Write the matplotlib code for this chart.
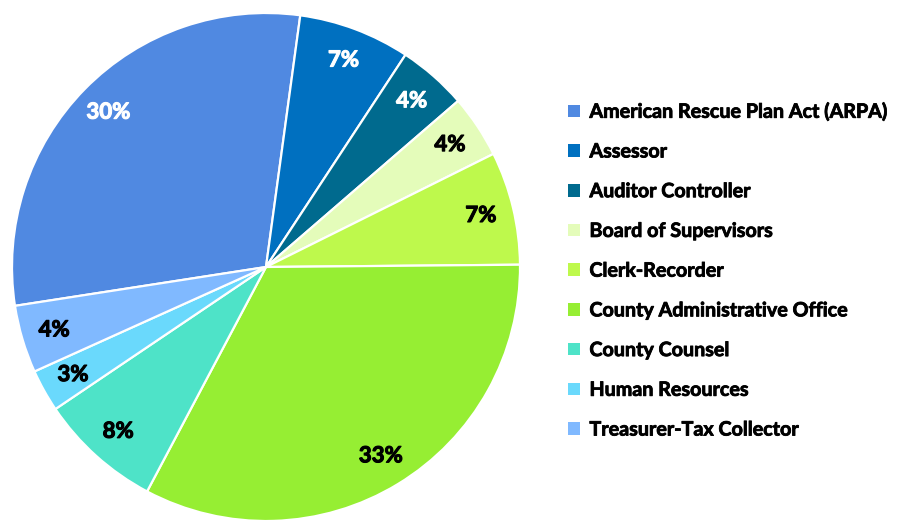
import matplotlib
matplotlib.use("Agg")
import matplotlib.pyplot as plt
from matplotlib.patches import Patch
import matplotlib.patheffects as pe

categories = ["American Rescue Plan Act (ARPA)", "Assessor", "Auditor Controller",
              "Board of Supervisors", "Clerk-Recorder", "County Administrative Office",
              "County Counsel", "Human Resources", "Treasurer-Tax Collector"]
values = [29.6, 7.1, 4.4, 4.0, 7.2, 32.9, 7.8, 2.7, 4.3]
labels_pct = ["30%", "7%", "4%", "4%", "7%", "33%", "8%", "3%", "4%"]
colors = ["#5089E1", "#0070C0", "#006A8E", "#E4FCBA", "#BEF94C", "#96EE33",
          "#4EE3C8", "#6AD9FC", "#80B9FF"]
label_colors = ["white", "white", "white", "black", "black", "black", "black", "black", "black"]

FONT = ['Lato', 'DejaVu Sans']
plt.rcParams['font.family'] = FONT

fig = plt.figure(figsize=(9.04, 5.23), dpi=100)
ax = fig.add_axes([12/904, 2/523, 508/904, 508/523])

wedges, texts, autotexts = ax.pie(
    values, colors=colors, startangle=188.8, counterclock=False, radius=1,
    autopct=lambda p: "", pctdistance=0.87,
    wedgeprops=dict(edgecolor="white", linewidth=1.6))
for at, lab, c in zip(autotexts, labels_pct, label_colors):
    at.set_text(lab)
    at.set_color(c)
    at.set_fontsize(16)
    at.set_fontweight("bold")
    at.set_path_effects([pe.withStroke(linewidth=0.8, foreground=c)])
ax.set_xlim(-1, 1)
ax.set_ylim(-1, 1)
ax.set_aspect("equal")
ax.axis("off")

handles = [Patch(facecolor=c, edgecolor="none") for c in colors]
leg = fig.legend(handles, categories, loc="upper left",
                 bbox_to_anchor=(550/904, 1 - 84/523), frameon=False,
                 handlelength=0.6, handleheight=0.6, handletextpad=0.5,
                 labelspacing=1.0, prop=dict(family=FONT, weight="bold", size=14.2))
for t in leg.get_texts():
    t.set_path_effects([pe.withStroke(linewidth=0.6, foreground="black")])

fig.savefig("out.png", dpi=100)
